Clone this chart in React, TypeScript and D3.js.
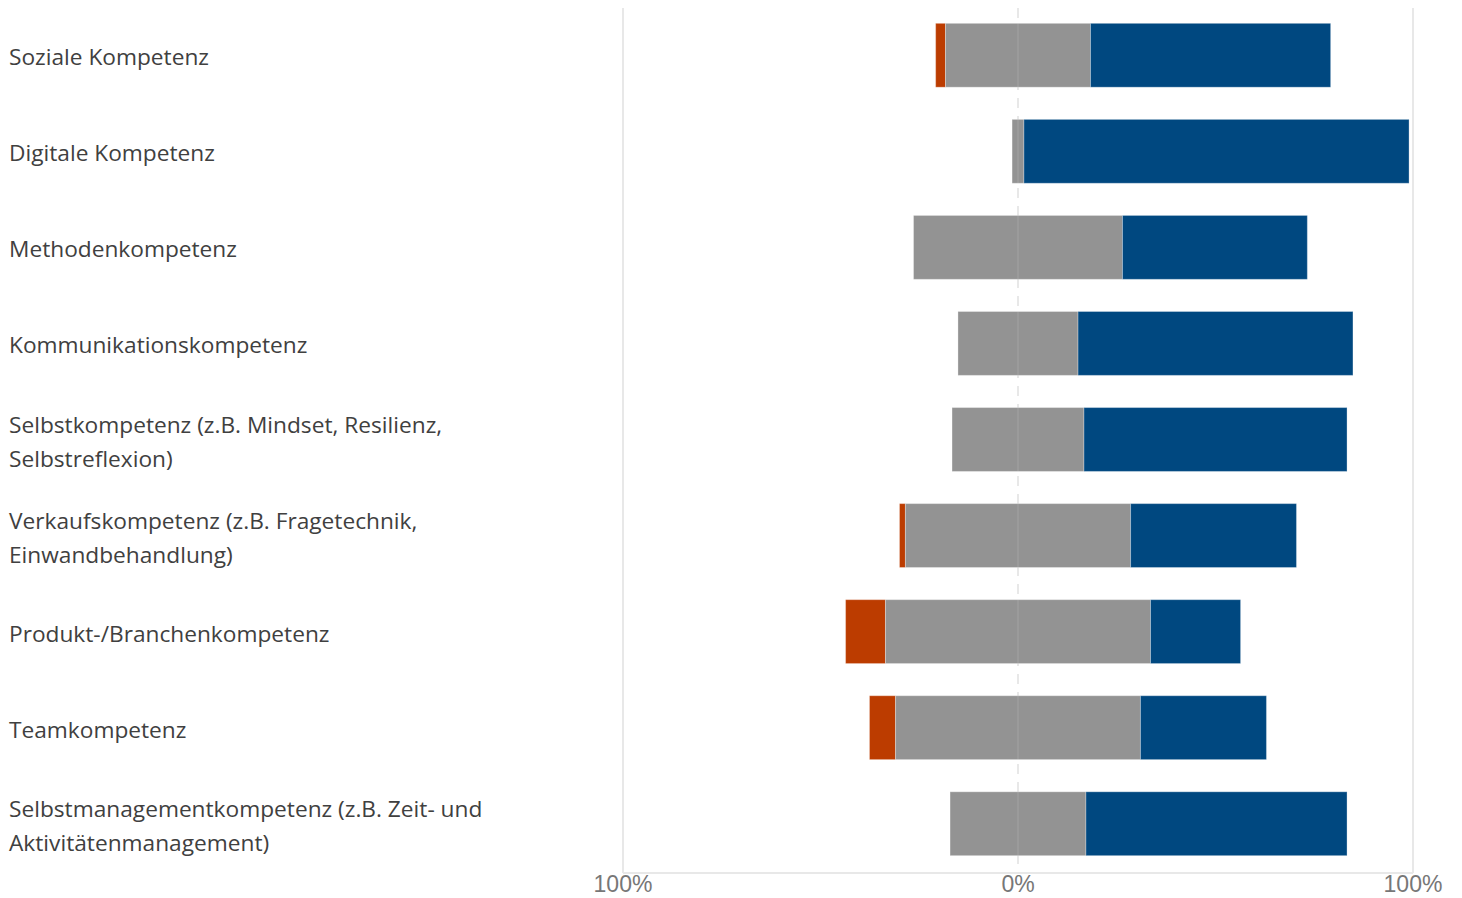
import React from "react";
import * as d3 from "d3";

const categories = [
  ["Soziale Kompetenz"],
  ["Digitale Kompetenz"],
  ["Methodenkompetenz"],
  ["Kommunikationskompetenz"],
  ["Selbstkompetenz (z.B. Mindset, Resilienz,", "Selbstreflexion)"],
  ["Verkaufskompetenz (z.B. Fragetechnik,", "Einwandbehandlung)"],
  ["Produkt-/Branchenkompetenz"],
  ["Teamkompetenz"],
  ["Selbstmanagementkompetenz (z.B. Zeit- und", "Aktivitätenmanagement)"],
];
const negative = [2.5, 0, 0, 0, 0, 1.5, 10.1, 6.6, 0];
const neutral = [36.7, 3.0, 52.9, 30.4, 33.4, 57.0, 67.1, 62.0, 34.4];
const positive = [60.8, 97.5, 46.8, 69.6, 66.6, 42.0, 22.8, 31.9, 66.1];
const tickValues = [-100, 0, 100];
const tickLabels = ["100%", "0%", "100%"];

const W = 1462;
const H = 898;
const colors = { neg: "#bc3c00", neu: "#939393", pos: "#004880" };

export default function App() {
  const x = d3.scaleLinear().domain([-100, 100]).range([623, 1413]);
  const y = d3
    .scaleBand<number>()
    .domain(d3.range(categories.length))
    .range([7, 872])
    .paddingInner(0.335)
    .paddingOuter(0.17);
  const bh = y.bandwidth();
  const font = "'Open Sans', 'Noto Sans', sans-serif";

  return (
    <svg
      width={W}
      height={H}
      style={{ position: "absolute", left: 0, top: 0 }}
      fontFamily={font}
    >
      <rect width={W} height={H} fill="#fff" />
      {/* gridlines */}
      <line x1={x(-100)} x2={x(-100)} y1={8} y2={873} stroke="#e8e8e8" strokeWidth={2} />
      <line x1={x(100)} x2={x(100)} y1={8} y2={873} stroke="#e8e8e8" strokeWidth={2} />
      <line x1={x(0)} x2={x(0)} y1={8} y2={873} stroke="#e8e8e8" strokeWidth={2} strokeDasharray="10,8" />
      <line x1={x(-100)} x2={x(100)} y1={873} y2={873} stroke="#e8e8e8" strokeWidth={2} />
      {categories.map((c, i) => {
        const yy = y(i)!;
        const n = neutral[i];
        const negStart = -n / 2 - negative[i];
        const segs = [
          { x0: negStart, x1: -n / 2, c: colors.neg, v: negative[i] },
          { x0: -n / 2, x1: n / 2, c: colors.neu, v: n },
          { x0: n / 2, x1: n / 2 + positive[i], c: colors.pos, v: positive[i] },
        ];
        return (
          <g key={i}>
            {segs
              .filter((s) => s.v > 0)
              .map((s, j) => (
                <rect
                  key={j}
                  x={x(s.x0)}
                  y={yy}
                  width={x(s.x1) - x(s.x0)}
                  height={bh}
                  fill={s.c}
                  stroke="rgba(255,255,255,0.3)"
                  strokeWidth={1}
                />
              ))}
            <line
              x1={x(0)}
              x2={x(0)}
              y1={yy}
              y2={yy + bh}
              stroke="rgba(255,255,255,0.15)"
              strokeWidth={1}
            />
            <text fill="#404040" fontSize={22.7}>
              {c.map((line, k) => (
                <tspan
                  key={k}
                  x={9}
                  y={yy + bh / 2 + 10 + (k - (c.length - 1) / 2) * 34}
                >
                  {line}
                </tspan>
              ))}
            </text>
          </g>
        );
      })}
      {tickValues.map((t, i) => (
        <text
          key={i}
          x={x(t)}
          y={892}
          textAnchor="middle"
          fill="#777"
          fontSize={23}
          fontFamily="'Liberation Sans', Arial, sans-serif"
        >
          {tickLabels[i]}
        </text>
      ))}
    </svg>
  );
}
